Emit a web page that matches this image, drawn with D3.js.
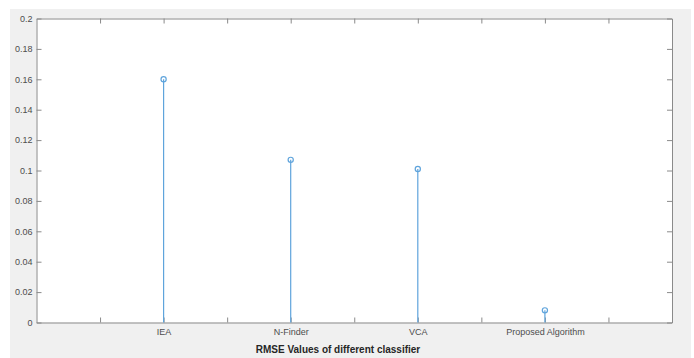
<!DOCTYPE html>
<html>
<head>
<meta charset="utf-8">
<script src="https://cdn.jsdelivr.net/npm/d3@7"></script>
<style>
  body { margin: 0; background: #ffffff; }
  text { font-family: "Liberation Sans", Arial, sans-serif; }
</style>
</head>
<body>
<div id="chart"></div>
<script>
// --- data ---
var positions = [2, 4, 6, 8];
var rmse = [0.16, 0.107, 0.101, 0.008];
var xTickValues = [1, 2, 3, 4, 5, 6, 7, 8, 9];
var xTickLabels = ["", "IEA", "", "N-Finder", "", "VCA", "", "Proposed Algorithm", ""];
var yTickValues = [0, 0.02, 0.04, 0.06, 0.08, 0.1, 0.12, 0.14, 0.16, 0.18, 0.2];
var xLabel = "RMSE Values of different classifier";

var width = 694, height = 358;
var margin = {top: 18.5, right: 22, bottom: 35.5, left: 36.5};
var stemColor = "#5fa4dc";
var axisColor = "#8a8a8a";
var tickLen = 5;

var svg = d3.select("#chart").append("svg")
    .attr("width", width).attr("height", height);

// figure background (gray panel)
svg.append("rect").attr("x", 10).attr("y", 9)
    .attr("width", 681).attr("height", 349).attr("fill", "#f0f0f0");

var x = d3.scaleLinear().domain([0, 10]).range([margin.left, width - margin.right]);
var y = d3.scaleLinear().domain([0, 0.2]).range([height - margin.bottom, margin.top]);

// axes area
svg.append("rect")
    .attr("x", x(0)).attr("y", y(0.2))
    .attr("width", x(10) - x(0)).attr("height", y(0) - y(0.2))
    .attr("fill", "#ffffff");

var fmt = function(d){ return d === 0 ? "0" : d3.format("~g")(d); };

var xAxis = g => g
    .attr("transform", "translate(0," + y(0) + ")")
    .call(d3.axisBottom(x).tickValues(xTickValues)
        .tickFormat(function(d, i){ return xTickLabels[i]; })
        .tickSizeInner(-tickLen).tickSizeOuter(0).tickPadding(6));
var xAxisTop = g => g
    .attr("transform", "translate(0," + y(0.2) + ")")
    .call(d3.axisTop(x).tickValues(xTickValues).tickFormat("")
        .tickSizeInner(-tickLen).tickSizeOuter(0));
var yAxis = g => g
    .attr("transform", "translate(" + x(0) + ",0)")
    .call(d3.axisLeft(y).tickValues(yTickValues).tickFormat(fmt)
        .tickSizeInner(-tickLen).tickSizeOuter(0).tickPadding(4));
var yAxisRight = g => g
    .attr("transform", "translate(" + x(10) + ",0)")
    .call(d3.axisRight(y).tickValues(yTickValues).tickFormat("")
        .tickSizeInner(-tickLen).tickSizeOuter(0));

[xAxis, xAxisTop, yAxis, yAxisRight].forEach(function(ax){
    var g = svg.append("g").call(ax);
    g.selectAll(".domain").attr("stroke", axisColor);
    g.selectAll(".tick line").attr("stroke", axisColor);
    g.selectAll(".tick text").attr("fill", "#4d4d4d").style("font-size", "9px");
});

// stems
svg.append("g").selectAll("line").data(positions).join("line")
    .attr("x1", function(d){ return x(d); })
    .attr("x2", function(d){ return x(d); })
    .attr("y1", y(0))
    .attr("y2", function(d, i){ return y(rmse[i]); })
    .attr("stroke", stemColor).attr("stroke-width", 1.2);

// markers
svg.append("g").selectAll("circle").data(positions).join("circle")
    .attr("cx", function(d){ return x(d); })
    .attr("cy", function(d, i){ return y(rmse[i]); })
    .attr("r", 2.6)
    .attr("fill", "none").attr("stroke", stemColor).attr("stroke-width", 1.2);

// x label
svg.append("text")
    .attr("x", 338).attr("y", 353)
    .attr("text-anchor", "middle")
    .style("font-size", "10px").style("font-weight", "bold")
    .attr("fill", "#262626")
    .text(xLabel);
</script>
</body>
</html>
